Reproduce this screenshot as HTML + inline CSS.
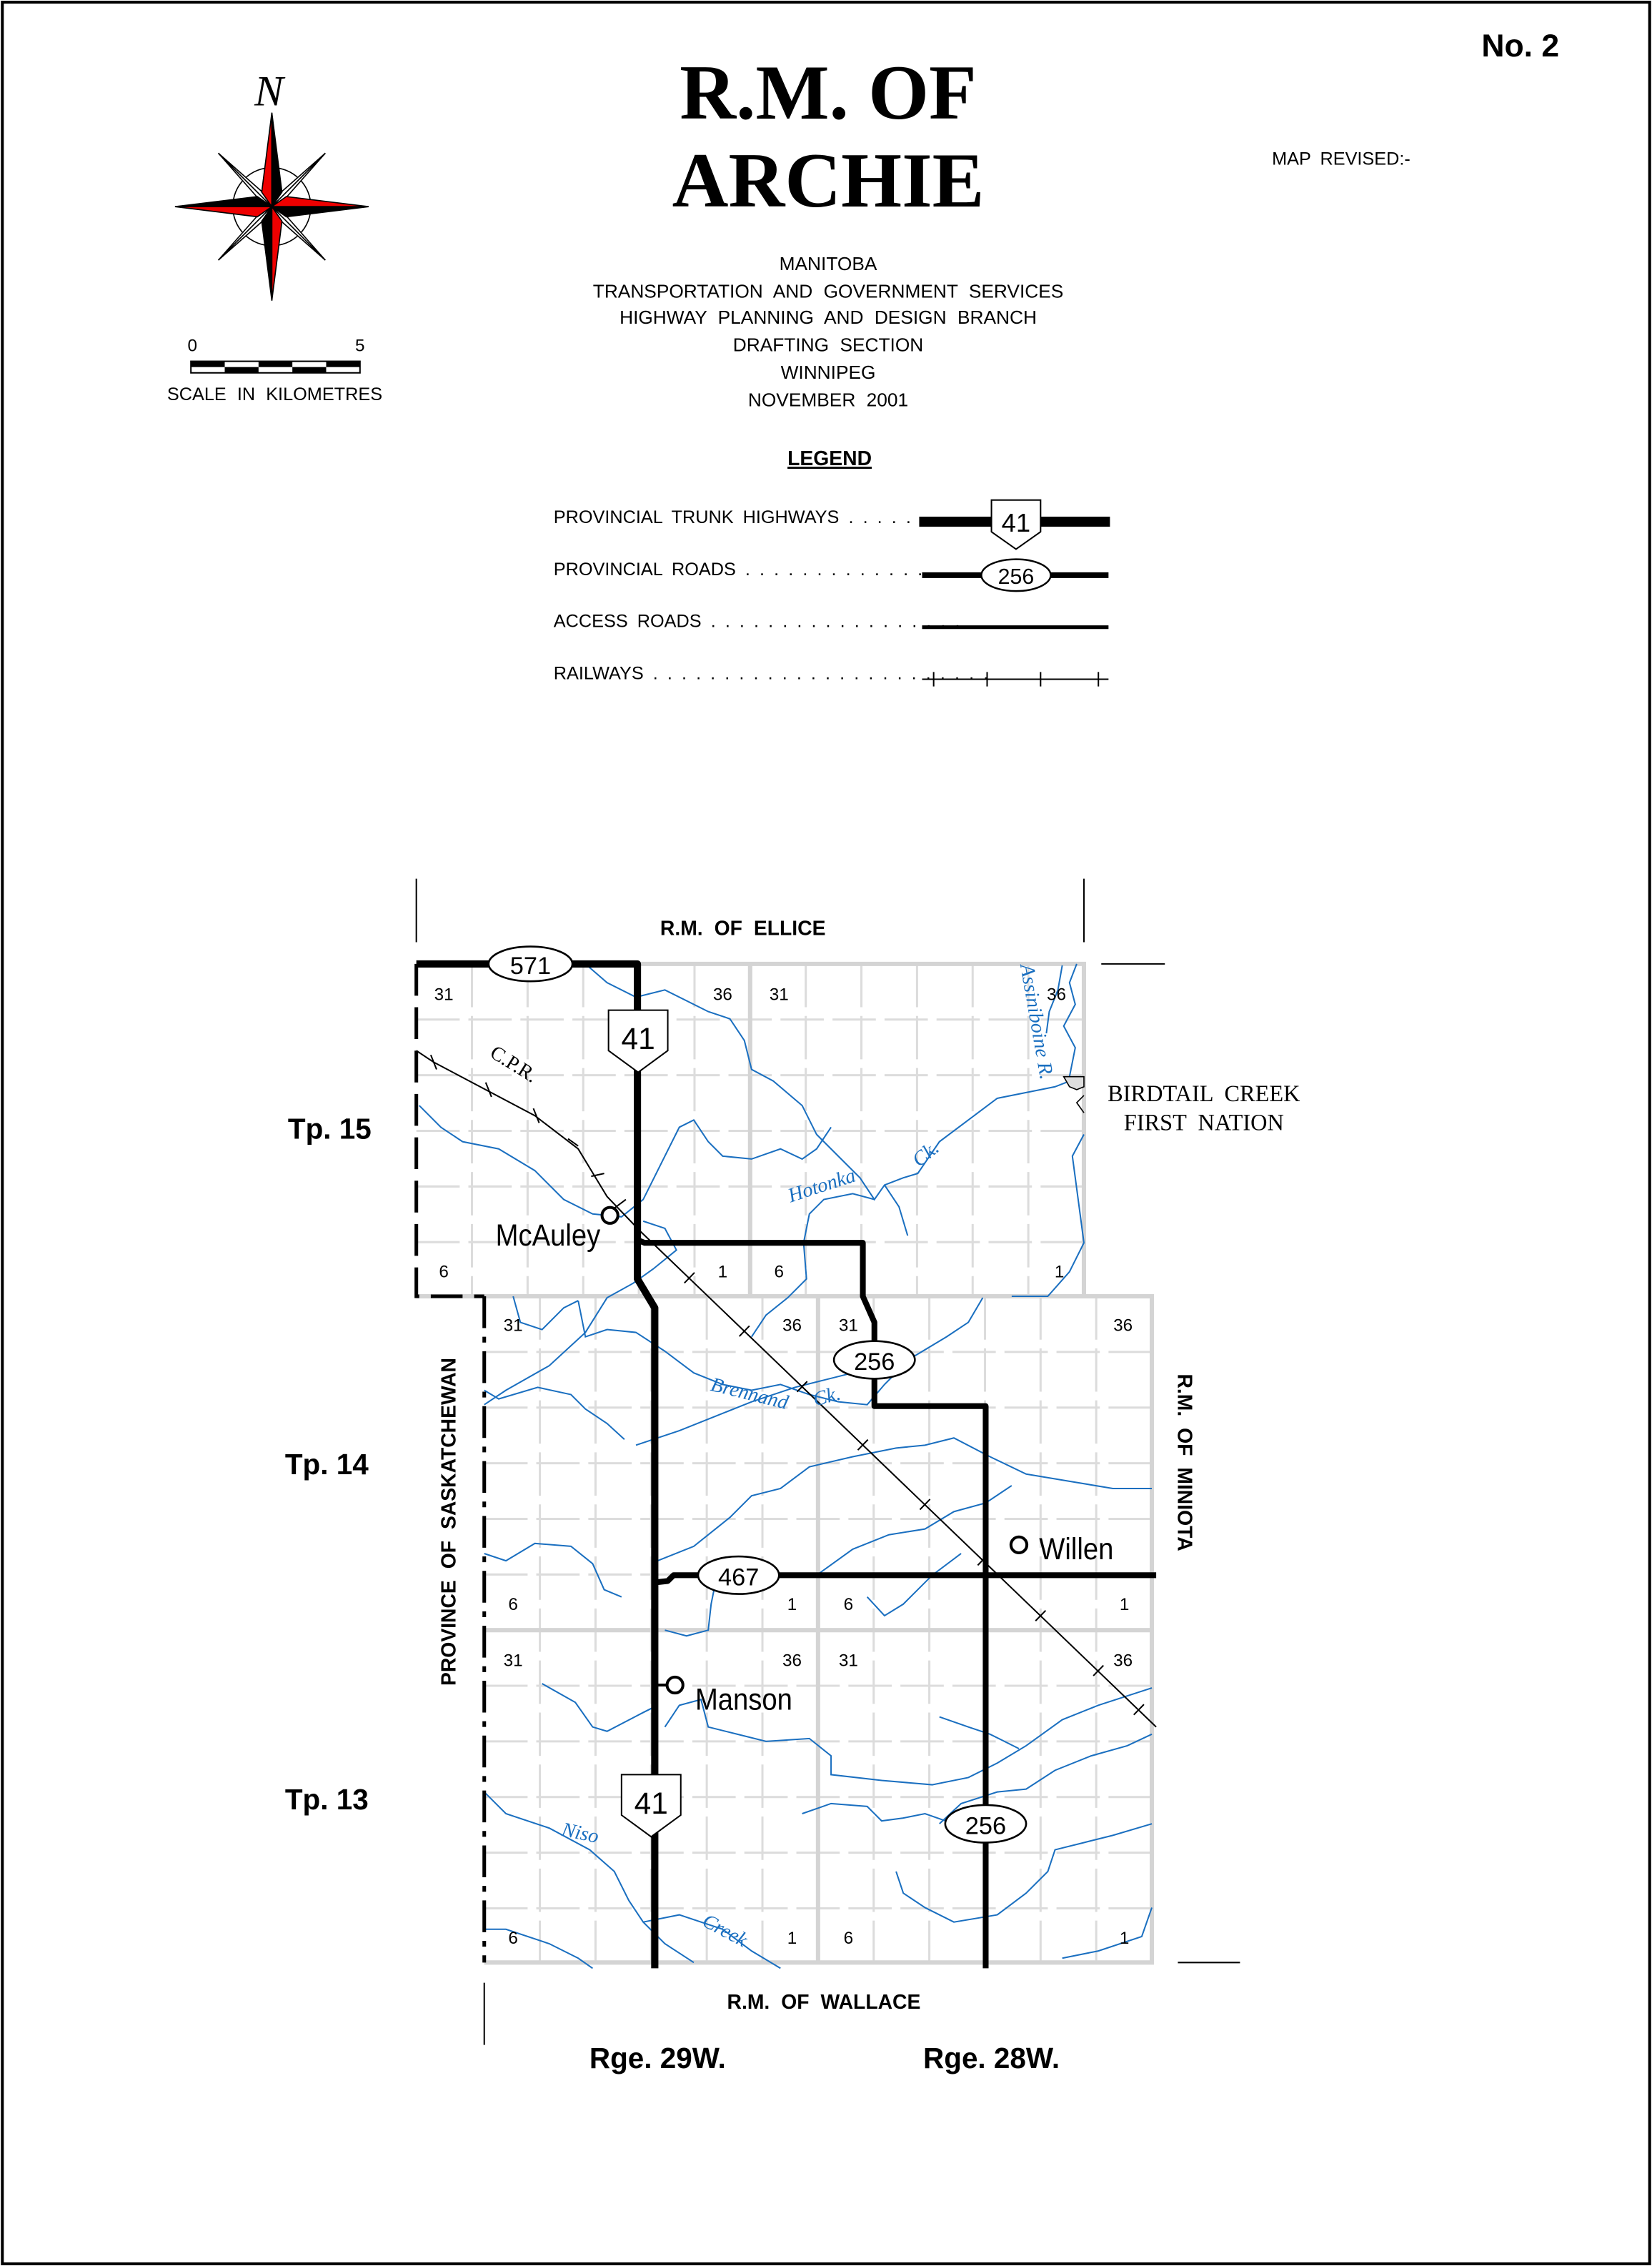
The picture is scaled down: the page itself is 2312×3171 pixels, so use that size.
<!DOCTYPE html>
<html><head><meta charset="utf-8"><style>
html,body{margin:0;padding:0;background:#fff}
svg{display:block}
text{font-family:"Liberation Sans",sans-serif}
.serif,.serif text{font-family:"Liberation Serif",serif}
</style></head><body>
<svg width="2312" height="3171" viewBox="0 0 1143 1568" xmlns="http://www.w3.org/2000/svg">
<rect x="1.5" y="1.5" width="1140" height="1565" fill="#fff" stroke="#000" stroke-width="2"/>

<!-- Header -->
<text x="1052" y="39" font-size="22" font-weight="bold" text-anchor="middle">No. 2</text>
<text class="serif" x="573" y="82" font-size="54" font-weight="bold" text-anchor="middle">R.M. OF</text>
<text class="serif" x="573" y="143" font-size="54" font-weight="bold" text-anchor="middle">ARCHIE</text>
<text x="928" y="114" font-size="12.5" text-anchor="middle" word-spacing="3">MAP REVISED:-</text>
<g font-size="13" text-anchor="middle" word-spacing="4">
<text x="573" y="187">MANITOBA</text>
<text x="573" y="206">TRANSPORTATION AND GOVERNMENT SERVICES</text>
<text x="573" y="224">HIGHWAY PLANNING AND DESIGN BRANCH</text>
<text x="573" y="243">DRAFTING SECTION</text>
<text x="573" y="262">WINNIPEG</text>
<text x="573" y="281">NOVEMBER 2001</text>
</g>
<text x="574" y="322" font-size="14" font-weight="bold" text-anchor="middle" text-decoration="underline">LEGEND</text>
<g font-size="12.5" word-spacing="3">
<text x="383" y="362">PROVINCIAL TRUNK HIGHWAYS . . . . .</text>
<text x="383" y="398">PROVINCIAL ROADS . . . . . . . . . . . . . .</text>
<text x="383" y="434">ACCESS ROADS . . . . . . . . . . . . . . . . . .</text>
<text x="383" y="470">RAILWAYS . . . . . . . . . . . . . . . . . . . . . . . .</text>
</g>
<line x1="636" y1="361" x2="768" y2="361" stroke="#000" stroke-width="7"/>
<path d="M686,346 H720 V368 L703,380 L686,368 Z" fill="#fff" stroke="#000" stroke-width="1"/>
<text x="703" y="368" font-size="18" text-anchor="middle">41</text>
<line x1="638" y1="398" x2="767" y2="398" stroke="#000" stroke-width="4"/>
<ellipse cx="703" cy="398" rx="24" ry="11" fill="#fff" stroke="#000" stroke-width="1.2"/>
<text x="703" y="404" font-size="15" text-anchor="middle">256</text>
<line x1="638" y1="434" x2="767" y2="434" stroke="#000" stroke-width="2.5"/>
<line x1="638" y1="470" x2="767" y2="470" stroke="#000" stroke-width="1"/>
<g stroke="#000" stroke-width="1"><line x1="646" y1="465" x2="646" y2="475"/><line x1="683" y1="465" x2="683" y2="475"/><line x1="720" y1="465" x2="720" y2="475"/><line x1="760" y1="465" x2="760" y2="475"/></g>

<!-- Compass -->
<g transform="translate(188,143)" stroke="#000" stroke-width="0.8">
<circle r="27" fill="#fff"/>
<g fill="#fff">
<path d="M0,0 L-7,-3 L-37,-37 Z"/><path d="M0,0 L-3,-7 L-37,-37 Z"/>
<path d="M0,0 L7,-3 L37,-37 Z"/><path d="M0,0 L3,-7 L37,-37 Z"/>
<path d="M0,0 L-7,3 L-37,37 Z"/><path d="M0,0 L-3,7 L-37,37 Z"/>
<path d="M0,0 L7,3 L37,37 Z"/><path d="M0,0 L3,7 L37,37 Z"/>
</g>
<path d="M0,-65 L-7,-10 L0,0 Z" fill="#e00"/><path d="M0,-65 L7,-10 L0,0 Z" fill="#000"/>
<path d="M0,65 L-7,10 L0,0 Z" fill="#000"/><path d="M0,65 L7,10 L0,0 Z" fill="#e00"/>
<path d="M-67,0 L-10,-7 L0,0 Z" fill="#000"/><path d="M-67,0 L-10,7 L0,0 Z" fill="#e00"/>
<path d="M67,0 L10,-7 L0,0 Z" fill="#e00"/><path d="M67,0 L10,7 L0,0 Z" fill="#000"/>
</g>
<text class="serif" x="186" y="73" font-size="30" font-style="italic" text-anchor="middle">N</text>
<text x="133" y="243" font-size="12" text-anchor="middle">0</text>
<text x="249" y="243" font-size="12" text-anchor="middle">5</text>
<rect x="132" y="250" width="117" height="8" fill="#fff" stroke="#000" stroke-width="1"/>
<g fill="#000"><rect x="132" y="250" width="23.4" height="4"/><rect x="155.4" y="254" width="23.4" height="4"/><rect x="178.8" y="250" width="23.4" height="4"/><rect x="202.2" y="254" width="23.4" height="4"/><rect x="225.6" y="250" width="23.4" height="4"/></g>
<text x="190" y="277" font-size="12.5" text-anchor="middle" word-spacing="4">SCALE IN KILOMETRES</text>

<!-- Grid -->
<g stroke="#dcdcdc" stroke-width="1.5" stroke-dasharray="30 6">
<path d="M326.5,667V897M365,667V897M403.5,667V897M442,667V897M480.5,667V897M557.5,667V897M596,667V897M634.5,667V897M673,667V897M711.5,667V897"/>
<path d="M288,705.5H750M288,744H750M288,782.5H750M288,821H750M288,859.5H750"/>
<path d="M373.5,897V1358M412,897V1358M450.5,897V1358M489,897V1358M527.5,897V1358M604.5,897V1358M643,897V1358M681.5,897V1358M720,897V1358M758.5,897V1358"/>
<path d="M335,935.5H797M335,974H797M335,1012.5H797M335,1051H797M335,1089.5H797M335,1166.5H797M335,1205H797M335,1243.5H797M335,1282H797M335,1320.5H797"/>
</g>
<g stroke="#d4d4d4" stroke-width="3" fill="none">
<path d="M288,667H750V897"/><path d="M519,667V897"/>
<path d="M288,897H797V1358H335"/><path d="M566,897V1358"/><path d="M335,1128H797"/>
</g>

<!-- Rivers -->
<g fill="none" stroke="#1a6fc0" stroke-width="1">
<path d="M290,765 L305,780 L320,790 L345,795 L370,810 L390,830 L410,840 L430,842 L445,830 L460,800 L470,780 L480,775 L490,790 L500,800 L520,802 L540,795 L555,802 L565,795 L575,780"/>
<path d="M405,667 L420,680 L440,690 L460,685 L490,700 L505,705 L515,720 L520,740 L535,748 L555,765 L565,785 L580,800 L595,815 L605,830 L612,820 L625,815 L635,812 L650,790 L670,775 L690,760 L710,756 L730,752 L748,745"/>
<path d="M612,820 L622,835 L628,855"/>
<path d="M605,830 L590,826 L570,830 L560,840 L556,860 L558,885 L545,898 L530,910 L520,925"/>
<path d="M745,667 L740,680 L744,695 L736,710 L744,725 L740,745"/>
<path d="M735,668 L732,685 L726,700 L724,715"/>
<path d="M750,785 L742,800 L746,830 L750,860 L740,880 L725,897 L700,897"/>
<path d="M445,845 L460,850 L468,865 L452,878 L438,888 L420,898 L405,922 L380,945 L350,962 L335,972"/>
<path d="M355,897 L360,915 L375,920 L390,905 L400,900"/>
<path d="M400,900 L405,925 L420,920 L440,922 L460,935 L480,950 L500,958 L520,962 L540,958 L560,965 L580,970 L600,972 L612,958 L630,940 L655,925 L670,915 L680,898"/>
<path d="M335,962 L345,968 L372,960 L395,965 L405,975 L420,985 L432,996"/>
<path d="M440,1000 L470,990 L500,978 L520,970 L550,960 L570,955 L590,950 L610,948 L630,945"/>
<path d="M455,1080 L480,1070 L505,1050 L520,1035 L540,1030 L560,1015 L590,1008 L620,1002 L640,1000 L660,995 L685,1008 L710,1020 L740,1025 L770,1030 L797,1030"/>
<path d="M335,1075 L350,1080 L370,1068 L395,1070 L410,1082 L418,1100 L430,1105"/>
<path d="M565,1090 L590,1072 L615,1062 L640,1058 L660,1046 L682,1040 L700,1028"/>
<path d="M600,1105 L612,1118 L625,1110 L645,1090 L665,1075"/>
<path d="M460,1128 L475,1132 L490,1128 L492,1110 L495,1095"/>
<path d="M375,1165 L398,1178 L410,1195 L420,1198 L445,1185 L455,1180"/>
<path d="M460,1195 L470,1180 L485,1176 L490,1195 L510,1200 L530,1205 L560,1203 L575,1215 L575,1228 L610,1232 L645,1235 L670,1230 L690,1220 L710,1208 L735,1190 L760,1180 L797,1168"/>
<path d="M650,1188 L670,1195 L685,1200 L705,1210"/>
<path d="M335,1240 L350,1255 L380,1265 L408,1280 L425,1295 L435,1315 L445,1330 L460,1345 L480,1358"/>
<path d="M445,1330 L470,1325 L500,1335 L520,1350 L540,1362"/>
<path d="M335,1335 L350,1335 L380,1345 L400,1355 L410,1362"/>
<path d="M555,1255 L575,1248 L600,1250 L610,1260 L625,1258 L640,1255 L660,1262"/>
<path d="M620,1295 L625,1310 L640,1320 L660,1330 L690,1325 L710,1310 L725,1295 L730,1280 L750,1275 L770,1270 L797,1262"/>
<path d="M650,1262 L665,1248 L690,1240 L710,1238 L730,1225 L755,1215 L780,1208 L797,1200"/>
<path d="M735,1355 L760,1350 L790,1340 L797,1320"/>
</g>

<!-- Black boundaries -->
<g stroke="#000" fill="none">
<line x1="288" y1="608" x2="288" y2="652" stroke-width="1"/>
<line x1="750" y1="608" x2="750" y2="652" stroke-width="1"/>
<line x1="762" y1="667" x2="806" y2="667" stroke-width="1"/>
<line x1="815" y1="1358" x2="858" y2="1358" stroke-width="1"/>
<line x1="335" y1="1372" x2="335" y2="1415" stroke-width="1"/>
<path d="M288,667 V897 H335" stroke-width="2.5" stroke-dasharray="22 8"/>
<path d="M335,897 V1358" stroke-width="2.5" stroke-dasharray="22 6 4 6"/>
</g>

<!-- Railway -->
<g stroke="#000" stroke-width="1" fill="none">
<path d="M288,727 L300,735 L370,772 L400,795 L420,828 L443,852 L800,1195"/>
<path d="M298,730 L302,740M336,749 L340,759M369,767 L373,777M393,788 L400,793M409,814 L418,812M425,836 L433,830"/>
<path d="M480.5,880.6 L473.5,887.8M518.5,917.5 L511.5,924.7M558.5,955.9 L551.5,963.1M600.5,996.2 L593.5,1003.4M643.5,1037.4 L636.5,1044.6M683.5,1075.9 L676.5,1083.1M723.5,1114.4 L716.5,1121.6M763.5,1152.4 L756.5,1159.6M791.5,1179.4 L784.5,1186.6"/>
</g>
<text class="serif" x="330" y="741" font-size="14" transform="rotate(32 352 750)">C.P.R.</text>

<!-- Roads -->
<g stroke="#000" fill="none" stroke-linejoin="round">
<path d="M288,667 H441 V885 L453,905 V1362" stroke-width="5"/>
<path d="M441,858 L446,860 H597 V897 L605,915 V973 H682 V1362" stroke-width="4"/>
<path d="M453,1095 L462,1094 L466,1090 H800" stroke-width="4"/>
</g>
<ellipse cx="367" cy="667" rx="29" ry="12" fill="#fff" stroke="#000" stroke-width="1.3"/>
<text x="367" y="674" font-size="17" text-anchor="middle">571</text>
<path d="M421,699 H462 V727 L441.5,742 L421,727 Z" fill="#fff" stroke="#000" stroke-width="1"/>
<text x="441.5" y="726" font-size="21" text-anchor="middle">41</text>
<path d="M430,1228 H471 V1256 L450.5,1271 L430,1256 Z" fill="#fff" stroke="#000" stroke-width="1"/>
<text x="450.5" y="1255" font-size="21" text-anchor="middle">41</text>
<ellipse cx="605" cy="941" rx="28" ry="13" fill="#fff" stroke="#000" stroke-width="1.3"/>
<text x="605" y="948" font-size="17" text-anchor="middle">256</text>
<ellipse cx="682" cy="1262" rx="28" ry="13" fill="#fff" stroke="#000" stroke-width="1.3"/>
<text x="682" y="1269" font-size="17" text-anchor="middle">256</text>
<ellipse cx="511" cy="1090" rx="28" ry="13" fill="#fff" stroke="#000" stroke-width="1.3"/>
<text x="511" y="1097" font-size="17" text-anchor="middle">467</text>

<!-- Towns -->
<g fill="#fff" stroke="#000" stroke-width="2">
<circle cx="422" cy="841" r="5.5"/><circle cx="705" cy="1069" r="5.5"/><circle cx="467" cy="1166" r="5.5"/>
</g>
<line x1="453" y1="1166" x2="461" y2="1166" stroke="#000" stroke-width="2"/>
<text x="343" y="862" font-size="21" transform="scale(0.9,1) translate(38,0)">McAuley</text>
<text x="719" y="1079" font-size="21" transform="translate(71.9,0) scale(0.9,1)">Willen</text>
<text x="481" y="1183" font-size="21" transform="translate(48.1,0) scale(0.9,1)">Manson</text>

<!-- River labels -->
<g class="serif" fill="#1a6fc0" font-style="italic" font-size="14">
<text x="547" y="832" transform="rotate(-18 547 832)">Hotonka</text>
<text x="636" y="808" transform="rotate(-40 636 808)">Ck.</text>
<text x="706" y="668" transform="rotate(80 706 668)">Assiniboine R.</text>
<text x="491" y="962" transform="rotate(14 491 962)">Brennand</text>
<text x="564" y="973" transform="rotate(-15 564 973)">Ck.</text>
<text x="388" y="1270" transform="rotate(12 388 1270)">Niso</text>
<text x="485" y="1332" transform="rotate(28 485 1332)">Creek</text>
</g>

<!-- Section numbers -->
<g font-size="12" text-anchor="middle">
<text x="307" y="692">31</text><text x="500" y="692">36</text><text x="539" y="692">31</text><text x="731" y="692">36</text>
<text x="307" y="884">6</text><text x="500" y="884">1</text><text x="539" y="884">6</text><text x="733" y="884">1</text>
<text x="355" y="921">31</text><text x="548" y="921">36</text><text x="587" y="921">31</text><text x="777" y="921">36</text>
<text x="355" y="1114">6</text><text x="548" y="1114">1</text><text x="587" y="1114">6</text><text x="778" y="1114">1</text>
<text x="355" y="1153">31</text><text x="548" y="1153">36</text><text x="587" y="1153">31</text><text x="777" y="1153">36</text>
<text x="355" y="1345">6</text><text x="548" y="1345">1</text><text x="587" y="1345">6</text><text x="778" y="1345">1</text>
</g>

<!-- Birdtail -->
<path d="M736,745 H750 V752 L745,754 L740,752 Z" fill="#ddd" stroke="#000" stroke-width="0.8"/>
<path d="M750,758 L745,763 L750,770" fill="none" stroke="#000" stroke-width="0.8"/>
<text class="serif" x="833" y="762" font-size="16" text-anchor="middle" word-spacing="4">BIRDTAIL CREEK</text>
<text class="serif" x="833" y="782" font-size="16" text-anchor="middle" word-spacing="4">FIRST NATION</text>

<!-- Labels -->
<g font-weight="bold">
<text x="514" y="647" font-size="14" text-anchor="middle" word-spacing="4">R.M. OF ELLICE</text>
<text x="570" y="1390" font-size="14" text-anchor="middle" word-spacing="4">R.M. OF WALLACE</text>
<text x="228" y="788" font-size="20" text-anchor="middle">Tp. 15</text>
<text x="226" y="1020" font-size="20" text-anchor="middle">Tp. 14</text>
<text x="226" y="1252" font-size="20" text-anchor="middle">Tp. 13</text>
<text x="455" y="1431" font-size="20" text-anchor="middle">Rge. 29W.</text>
<text x="686" y="1431" font-size="20" text-anchor="middle">Rge. 28W.</text>
<text x="0" y="0" font-size="14" text-anchor="middle" word-spacing="4" transform="translate(315,1053) rotate(-90)">PROVINCE OF SASKATCHEWAN</text>
<text x="0" y="0" font-size="14" text-anchor="middle" word-spacing="4" transform="translate(815,1012) rotate(90)">R.M. OF MINIOTA</text>
</g>
</svg>
</body></html>
